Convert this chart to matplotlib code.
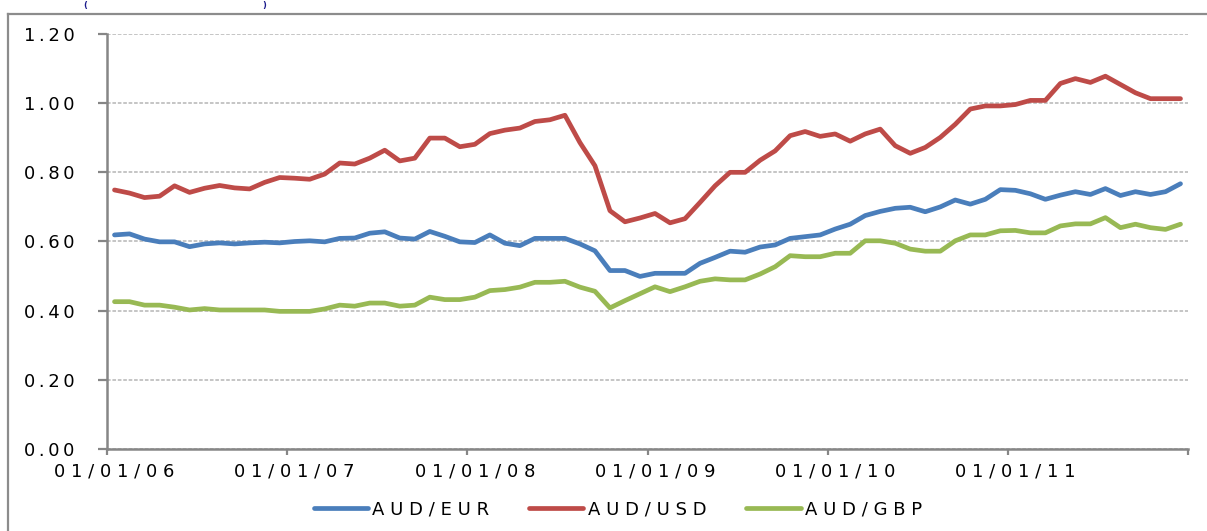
import numpy as np
import pandas as pd
import matplotlib
matplotlib.use('Agg')
import matplotlib.pyplot as plt
from matplotlib.lines import Line2D

# Monthly AUD cross rates, Jan 2006 - Dec 2011
months = pd.date_range('2006-01-01', periods=72, freq='MS')

aud_eur = [0.619, 0.622, 0.607, 0.599, 0.599, 0.585, 0.593, 0.596, 0.593, 0.596, 0.598, 0.596,
           0.600, 0.602, 0.599, 0.609, 0.610, 0.624, 0.628, 0.610, 0.607, 0.629, 0.615, 0.599,
           0.597, 0.619, 0.595, 0.588, 0.609, 0.609, 0.609, 0.593, 0.573, 0.516, 0.516, 0.499,
           0.508, 0.508, 0.508, 0.537, 0.554, 0.572, 0.569, 0.584, 0.590, 0.609, 0.614, 0.619,
           0.636, 0.650, 0.675, 0.687, 0.696, 0.699, 0.686, 0.700, 0.720, 0.708, 0.722, 0.750,
           0.748, 0.738, 0.722, 0.734, 0.744, 0.736, 0.753, 0.733, 0.744, 0.736, 0.744, 0.767]

aud_usd = [0.749, 0.740, 0.727, 0.731, 0.761, 0.742, 0.754, 0.762, 0.755, 0.752, 0.771, 0.785,
           0.783, 0.780, 0.795, 0.827, 0.824, 0.841, 0.864, 0.833, 0.841, 0.899, 0.899, 0.874,
           0.881, 0.912, 0.922, 0.928, 0.947, 0.952, 0.965, 0.886, 0.819, 0.689, 0.657, 0.668,
           0.681, 0.654, 0.666, 0.713, 0.761, 0.800, 0.800, 0.835, 0.862, 0.906, 0.918, 0.904,
           0.911, 0.890, 0.911, 0.925, 0.877, 0.855, 0.872, 0.901, 0.939, 0.983, 0.992, 0.992,
           0.996, 1.008, 1.008, 1.057, 1.071, 1.060, 1.078, 1.054, 1.030, 1.013, 1.013, 1.013]

aud_gbp = [0.426, 0.426, 0.416, 0.416, 0.410, 0.402, 0.406, 0.402, 0.402, 0.402, 0.402, 0.398,
           0.398, 0.398, 0.405, 0.416, 0.413, 0.422, 0.422, 0.413, 0.416, 0.439, 0.432, 0.432,
           0.439, 0.458, 0.461, 0.468, 0.482, 0.482, 0.485, 0.468, 0.456, 0.408, 0.429, 0.449,
           0.469, 0.455, 0.469, 0.485, 0.492, 0.489, 0.489, 0.506, 0.527, 0.559, 0.556, 0.556,
           0.566, 0.566, 0.602, 0.602, 0.595, 0.578, 0.572, 0.572, 0.602, 0.619, 0.619, 0.631,
           0.632, 0.625, 0.625, 0.645, 0.651, 0.651, 0.669, 0.640, 0.650, 0.640, 0.635, 0.650]

series_names = ['AUD/EUR', 'AUD/USD', 'AUD/GBP']
series_colors = ['#4A7EBB', '#BE4B48', '#98B954']
y_ticks = [0.0, 0.2, 0.4, 0.6, 0.8, 1.0, 1.2]


def spaced(s, sep=' '):
    # wide letter spacing like the spreadsheet labels
    return sep.join(s)


plt.rcParams['font.family'] = ['DejaVu Sans']
W, H = 1207, 531
fig = plt.figure(figsize=(W / 100, H / 100), dpi=100)
ax = fig.add_axes([107 / W, (H - 449) / H, 1081 / W, 415 / H])

x = np.arange(len(months))
for vals, name, col in zip([aud_eur, aud_usd, aud_gbp], series_names, series_colors):
    ax.plot(x, vals, color=col, lw=3.4, label=spaced(name),
            solid_capstyle='round', solid_joinstyle='round')

ax.set_xlim(-0.5, len(months) - 0.5)
ax.set_ylim(0, 1.2)

ax.set_yticks(y_ticks)
ax.set_yticklabels([spaced(f'{v:.2f}', '\u2009') for v in y_ticks], fontsize=13)
ax.grid(axis='y', color='#c0c0c0', linestyle=(0, (2, 1)), lw=1.3)
ax.set_axisbelow(True)

# year boundaries get tick marks, labels sit under the first month of each year
ax.set_xticks(np.arange(-0.5, len(months), 12))
ax.set_xticklabels([])
year_idx = np.arange(0, len(months) - 1, 12)
ax.set_xticks(year_idx, minor=True)
ax.set_xticklabels([spaced(months[i].strftime('%d/%m/%y')) for i in year_idx],
                   minor=True, fontsize=13)

for s in ['top', 'right']:
    ax.spines[s].set_visible(False)
for s in ['left', 'bottom']:
    ax.spines[s].set_color('#868686')
    ax.spines[s].set_linewidth(1.8)

ax.tick_params(axis='y', which='major', direction='out', length=6.5, width=1.6,
               color='#868686', pad=17)
ax.tick_params(axis='x', which='major', direction='out', length=4.5, width=1.6,
               color='#868686')
ax.tick_params(axis='x', which='minor', length=0, pad=10)

fig.legend(loc='center', bbox_to_anchor=(0.512, 0.04), ncol=3, frameon=False,
           fontsize=13, handlelength=3.0, handletextpad=0.25, columnspacing=2.2)

# outer chart frame (runs off the right and bottom edges)
fig.add_artist(Line2D([8 / W, 8 / W], [0, 1 - 14 / H], color='#8c8c8c', lw=1.6))
fig.add_artist(Line2D([8 / W, 1], [1 - 14 / H, 1 - 14 / H], color='#8c8c8c', lw=1.6))

# brackets of the title above the chart frame
fig.text(85 / W, 1 - 1 / H, '(', color='#1a1a8c', fontsize=6, fontweight='bold',
         ha='center', va='top')
fig.text(264 / W, 1 - 1 / H, ')', color='#1a1a8c', fontsize=6, fontweight='bold',
         ha='center', va='top')

fig.savefig('out.png', dpi=100)
